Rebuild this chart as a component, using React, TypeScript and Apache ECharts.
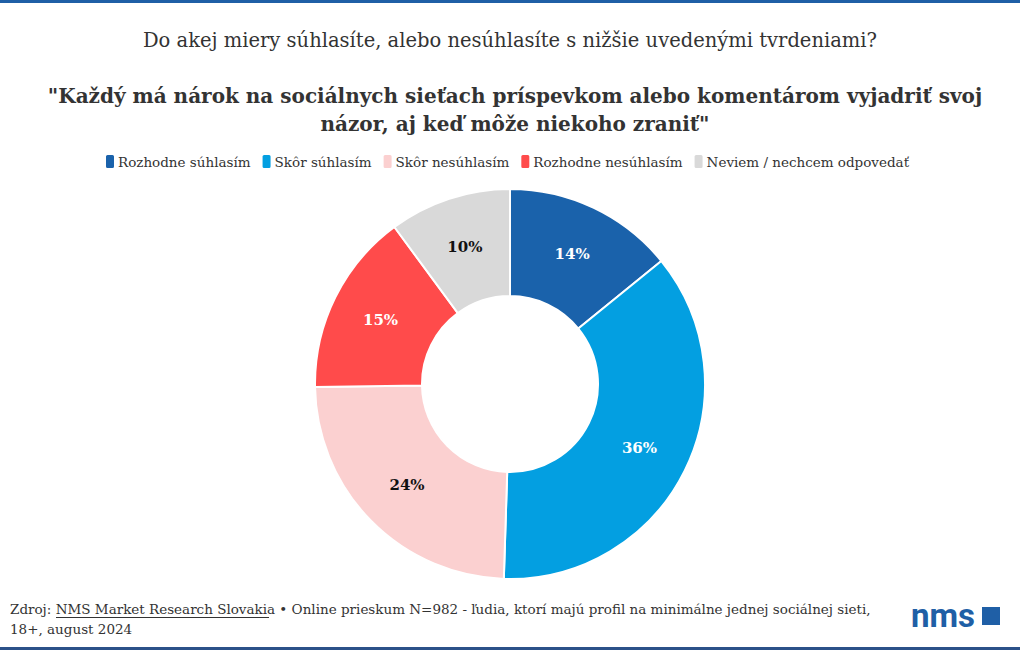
import React, { useEffect, useRef } from "react";
import * as echarts from "echarts";

const categories = [
  "Rozhodne súhlasím",
  "Skôr súhlasím",
  "Skôr nesúhlasím",
  "Rozhodne nesúhlasím",
  "Neviem / nechcem odpovedať",
];
const values = [14, 36, 24, 15, 10];
const colors = ["#1a62ab", "#039fe1", "#fbd0d0", "#ff4b4b", "#d9d9d9"];
const labelColors = ["#ffffff", "#ffffff", "#111111", "#ffffff", "#111111"];

const question = "Do akej miery súhlasíte, alebo nesúhlasíte s nižšie uvedenými tvrdeniami?";
const statement =
  "\"Každý má nárok na sociálnych sieťach príspevkom alebo komentárom vyjadriť svoj\nnázor, aj keď môže niekoho zraniť\"";
const sourceName = "NMS Market Research Slovakia";
const sourceRest =
  " • Online prieskum N=982 - ľudia, ktorí majú profil na minimálne jednej sociálnej sieti,";
const sourceLine2 = "18+, august 2024";

const FONT = "'DejaVu Serif', serif";

export default function App() {
  const ref = useRef<HTMLDivElement>(null);

  useEffect(() => {
    document.body.style.margin = "0";
    if (!ref.current) return;
    const chart = echarts.init(ref.current, undefined, { renderer: "svg" });
    chart.setOption({
      animation: false,
      backgroundColor: "#ffffff",
      textStyle: { fontFamily: FONT },
      title: [
        {
          text: question,
          left: "center",
          top: 25,
          textStyle: { fontFamily: FONT, fontSize: 19.5, fontWeight: "normal", color: "#333333" },
        },
        {
          text: statement,
          left: 510,
          top: 77,
          textAlign: "center",
          textStyle: {
            fontFamily: FONT,
            fontSize: 20,
            fontWeight: "bold",
            color: "#333333",
            lineHeight: 28,
          },
        },
      ],
      legend: {
        top: 148,
        left: 99,
        icon: "roundRect",
        itemWidth: 10,
        itemHeight: 15,
        itemGap: 10,
        textStyle: { fontFamily: FONT, fontSize: 13.5, color: "#333333", padding: [0, 0, 0, -2] },
        data: categories,
      },
      series: [
        {
          type: "pie",
          center: [510, 384],
          radius: [88, 195],
          startAngle: 90,
          clockwise: true,
          avoidLabelOverlap: false,
          itemStyle: { borderColor: "#ffffff", borderWidth: 2 },
          label: {
            show: true,
            position: "inside",
            formatter: "{c}%",
            fontFamily: FONT,
            fontSize: 15,
            fontWeight: "bold",
          },
          labelLine: { show: false },
          emphasis: { disabled: true },
          data: categories.map((name, i) => ({
            name,
            value: values[i],
            itemStyle: { color: colors[i] },
            label: { color: labelColors[i] },
          })),
        },
      ],
      graphic: [
        {
          type: "rect",
          shape: { x: 0, y: 0, width: 1020, height: 3 },
          style: { fill: "#1f5fa6" },
        },
        {
          type: "rect",
          shape: { x: 0, y: 647, width: 1020, height: 3 },
          style: { fill: "#2b5189" },
        },
        {
          type: "text",
          left: 10,
          top: 599,
          style: {
            text: "Zdroj: " + sourceName + sourceRest + "\n" + sourceLine2,
            fontFamily: FONT,
            fontSize: 13.5,
            lineHeight: 20,
            fill: "#333333",
          },
        },
        {
          type: "line",
          shape: { x1: 56, y1: 617.5, x2: 269, y2: 617.5 },
          style: { stroke: "#333333", lineWidth: 1 },
        },
        {
          type: "text",
          style: {
            x: 911,
            y: 632,
            verticalAlign: "bottom",
            text: "nms",
            fontFamily: "Roboto, sans-serif",
            fontSize: 33,
            fontWeight: "bold",
            fill: "#1f5fa6",
          },
        },
        {
          type: "rect",
          shape: { x: 982, y: 607, width: 18, height: 18 },
          style: { fill: "#1f5fa6" },
        },
      ],
    });
    return () => chart.dispose();
  }, []);

  return (
    <div
      ref={ref}
      style={{ position: "absolute", left: 0, top: 0, width: 1020, height: 650 }}
    />
  );
}
